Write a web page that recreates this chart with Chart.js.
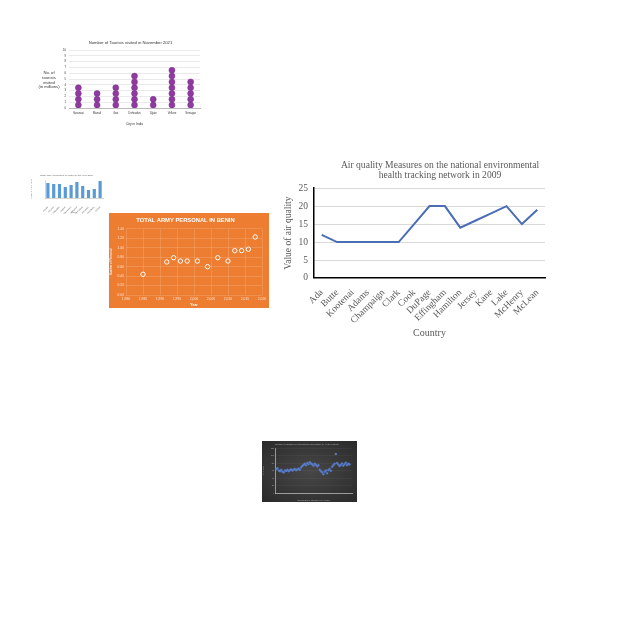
<!DOCTYPE html>
<html><head><meta charset="utf-8">
<script src="https://cdn.jsdelivr.net/npm/chart.js@4"></script>
<style>
html,body{margin:0;padding:0;background:#fff;width:640px;height:640px;overflow:hidden;}
.box{position:absolute;}
canvas{display:block;}
#tourTitle{position:absolute;left:34px;top:71px;width:30px;font:4.2px "Liberation Sans",sans-serif;color:#333;text-align:center;line-height:4.8px;}
</style></head>
<body>
<div class="box" style="left:61px;top:35px;width:146px;height:92px"><canvas id="c1" width="146" height="92"></canvas></div>
<div id="tourTitle">No. of<br>tourists<br>visited<br>(in millions)</div>
<div class="box" style="left:30px;top:172px;width:75px;height:42px"><canvas id="c2" width="75" height="42"></canvas></div>
<div class="box" style="left:109px;top:213px;width:160px;height:95px;background:#ED7D31"><canvas id="c3" width="160" height="95"></canvas></div>
<div class="box" style="left:278px;top:150px;width:319px;height:195px"><canvas id="c4" width="319" height="195"></canvas></div>
<div class="box" style="left:262px;top:441px;width:95px;height:61px;background:radial-gradient(ellipse at center,#474747 0%,#2a2a2a 100%)"><canvas id="c5" width="95" height="61"></canvas></div>
<script>
// ---------- data ----------
const airCounties = ["Ada","Butte","Kootenai","Adams","Champaign","Clark","Cook","DuPage","Effingham","Hamilton","Jersey","Kane","Lake","McHenry","McLean"];
const airValues = [12,10,10,10,10,10,15,20,20,14,16,18,20,15,19];

const tourCities = ["Varanasi","Manali","Goa","Dehradun","Ujjain","Vellore","Srinagar"];
const tourValues = [4,3,4,6,2,7,5];

const cottonStates = ["Punjab","Haryana","Rajasthan","Gujarat","Maharashtra","Telangana","Andhra Pradesh","Karnataka","Tamil Nadu","Odisha"];
const cottonValues = [15,14,14,11,13,16,12,8,9,17];

const beninYears = [1985,1992,1994,1996,1998,2001,2004,2007,2010,2012,2014,2016,2018];
const beninValues = [0.44,0.70,0.79,0.72,0.72,0.72,0.60,0.79,0.72,0.94,0.94,0.97,1.23];

const darkX = [1,2,3,4,5,6,7,8,9,10,11,12,13,14,15,16,17,18,19,20,21,22,23,24,25,26,27,28,29,30,31,32,33,34,35,36,37,38,39,40,41,42,43,44,45,46,47,48,49,50,51,52,53,54,55,56,57,58,59,60];
const darkY = [64,66,60,58,62,57,55,60,59,62,58,61,63,60,62,64,61,63,65,62,
               68,72,75,78,74,80,77,82,79,76,73,78,75,71,74,
               62,58,55,50,57,60,53,61,64,59,
               70,74,78,104,80,76,72,75,79,73,77,81,74,78,76];

// ---------- 1. tourists dot plot ----------
const tourPts = [];
tourCities.forEach((c,i)=>{ for(let k=1;k<=tourValues[i];k++) tourPts.push({x:i,y:k-0.5}); });
const sans = "'Liberation Sans', sans-serif";
new Chart(document.getElementById('c1'),{
  type:'scatter',
  data:{datasets:[{data:tourPts,backgroundColor:'#8E3A9E',borderColor:'#7B2C8F',borderWidth:0.5,pointRadius:3}]},
  options:{responsive:false,animation:false,
    layout:{padding:{left:0,right:7,top:0,bottom:1}},
    plugins:{legend:{display:false},tooltip:{enabled:false},
      title:{display:true,text:'Number of Tourists visited in November 2021',color:'#333',font:{family:sans,size:4.2,weight:'normal'},padding:{top:5,bottom:5}}},
    scales:{
      x:{type:'linear',min:-0.5,max:6.5,
        afterBuildTicks:s=>{s.ticks=tourCities.map((c,i)=>({value:i}));},
        ticks:{callback:v=>tourCities[v],color:'#333',font:{family:sans,size:2.8},padding:4,maxRotation:0,autoSkip:false},
        grid:{display:false,drawTicks:false},border:{color:'#bbb'},
        title:{display:true,text:'City in India',color:'#333',font:{family:sans,size:3.3},padding:{top:3,bottom:0}},
        afterFit:s=>{s.height=18;}},
      y:{min:0,max:10,ticks:{stepSize:1,autoSkip:false,color:'#333',font:{family:sans,size:2.8},padding:3},
        grid:{color:'#dcdcdc',lineWidth:0.6,drawTicks:false},border:{display:false},
        afterFit:s=>{s.width=8;}}
    }}
});

// ---------- 2. cotton bar chart ----------
new Chart(document.getElementById('c2'),{
  type:'bar',
  data:{labels:cottonStates,datasets:[{data:cottonValues,backgroundColor:'#5B9BD5',barPercentage:0.55,categoryPercentage:1}]},
  options:{responsive:false,animation:false,
    layout:{padding:{left:0,right:2,top:0,bottom:0}},
    plugins:{legend:{display:false},tooltip:{enabled:false},
      title:{display:true,text:'State-wise production of cotton in the year 2020',color:'#666',font:{family:sans,size:2.5,weight:'normal'},padding:{top:2,bottom:3}}},
    scales:{
      x:{ticks:{color:'#666',font:{family:sans,size:2},minRotation:45,maxRotation:45,autoSkip:false,padding:0},
        grid:{display:false},border:{color:'#aaa',width:0.5},
        title:{display:true,text:'States',color:'#777',font:{family:sans,size:2},padding:0},
        afterFit:s=>{s.height=16;}},
      y:{min:0,max:18,ticks:{display:false},grid:{display:false},border:{color:'#aaa',width:0.5},
        title:{display:true,text:'Production (lakh bales)',color:'#888',font:{family:sans,size:2},padding:0},
        afterFit:s=>{s.width=15;}}
    }}
});

// ---------- 3. Benin scatter ----------
new Chart(document.getElementById('c3'),{
  type:'scatter',
  data:{datasets:[{data:beninYears.map((y,i)=>({x:y,y:beninValues[i]})),backgroundColor:'#ED7D31',borderColor:'#ffffff',borderWidth:1,pointRadius:2.2}]},
  options:{responsive:false,animation:false,
    layout:{padding:{left:0,right:7,top:0,bottom:1}},
    plugins:{legend:{display:false},tooltip:{enabled:false},
      title:{display:true,text:'TOTAL ARMY PERSONAL IN BENIN',color:'#fff',font:{family:sans,size:5.8,weight:'bold'},padding:{top:4,bottom:5}}},
    scales:{
      x:{min:1980,max:2020,ticks:{stepSize:5,color:'#fde3cf',font:{family:sans,size:3.3},padding:2},
        grid:{color:'rgba(255,255,255,0.3)',lineWidth:0.5,drawTicks:false},border:{display:false},
        title:{display:true,text:'Year',color:'#fff',font:{family:sans,size:3.5,weight:'bold'},padding:{top:1,bottom:0}},
        afterFit:s=>{s.height=12;}},
      y:{min:0,max:1.4,ticks:{stepSize:0.2,callback:v=>v.toFixed(2),color:'#fde3cf',font:{family:sans,size:3.3},padding:2},
        grid:{color:'rgba(255,255,255,0.3)',lineWidth:0.5,drawTicks:false},border:{display:false},
        title:{display:true,text:'Number of Personal',color:'#fff',font:{family:sans,size:3},padding:0},
        afterFit:s=>{s.width=17;}}
    }}
});

// ---------- 4. air quality line ----------
const serif = "'Liberation Serif', 'DejaVu Serif', serif";
new Chart(document.getElementById('c4'),{
  type:'line',
  data:{labels:airCounties,datasets:[{data:airValues,borderColor:'#4A6DB5',borderWidth:2,pointRadius:0,tension:0,fill:false}]},
  options:{responsive:false,animation:false,
    layout:{padding:{left:5,right:0,top:0,bottom:6}},
    plugins:{legend:{display:false},tooltip:{enabled:false},
      title:{display:true,text:['Air quality Measures on the national environmental','health tracking network in 2009'],color:'#595959',font:{family:serif,size:9.6,weight:'normal',lineHeight:1.05},padding:{top:10,bottom:8}}},
    scales:{
      x:{offset:true,ticks:{color:'#595959',font:{family:serif,size:9.5},minRotation:45,maxRotation:45,autoSkip:false,padding:1},
        grid:{display:false},border:{color:'#000',width:1.5},
        title:{display:true,text:'Country',color:'#595959',font:{family:serif,size:10},padding:{top:0,bottom:0}}},
      y:{min:0,max:25,ticks:{stepSize:5,color:'#595959',font:{family:serif,size:9.5},padding:6},
        grid:{color:'#d9d9d9',lineWidth:1,drawTicks:false},border:{color:'#000',width:1.5},
        title:{display:true,text:'Value of air quality',color:'#595959',font:{family:serif,size:9.5},padding:0},
        afterFit:s=>{s.width=31;}},
      spacer:{position:'right',min:0,max:25,ticks:{display:false},grid:{display:false,drawTicks:false},border:{display:false},
        afterFit:s=>{s.width=52;}}
    }}
});

// ---------- 5. dark scatter ----------
new Chart(document.getElementById('c5'),{
  type:'scatter',
  data:{datasets:[{data:darkX.map((x,i)=>({x:x,y:darkY[i]})),backgroundColor:'#4F78D0',borderColor:'#6f8fd8',borderWidth:0.3,pointRadius:1}]},
  options:{responsive:false,animation:false,
    layout:{padding:{left:0,right:5,top:0,bottom:0}},
    plugins:{legend:{display:false},tooltip:{enabled:false},
      title:{display:true,text:'Number of Births per thousand population by year of study',color:'#aaa',font:{family:sans,size:2.5,weight:'normal'},padding:{top:2,bottom:2}}},
    scales:{
      x:{min:0,max:62,ticks:{stepSize:4,color:'#aaa',font:{family:sans,size:2},padding:1},
        grid:{display:false},border:{color:'#ddd',width:0.6},
        title:{display:true,text:'Cumulative Number of Years',color:'#aaa',font:{family:sans,size:2.5},padding:{top:1,bottom:0}},
        afterFit:s=>{s.height=9;}},
      y:{min:0,max:120,ticks:{stepSize:20,color:'#aaa',font:{family:sans,size:2},padding:1},
        grid:{color:'rgba(255,255,255,0.08)',lineWidth:0.5,drawTicks:false},border:{color:'#ddd',width:0.6},
        title:{display:true,text:'Birth Rate',color:'#aaa',font:{family:sans,size:2},padding:0},
        afterFit:s=>{s.width=13;}}
    }}
});
</script>
</body></html>
